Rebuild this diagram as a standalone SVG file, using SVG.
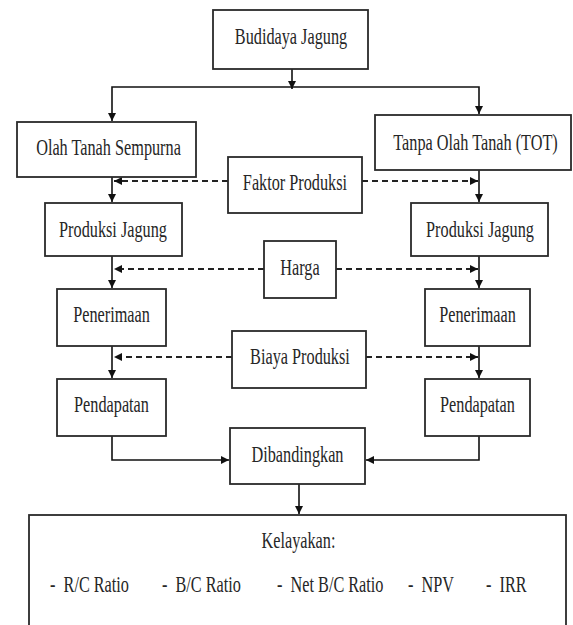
<svg xmlns="http://www.w3.org/2000/svg" width="573" height="625" viewBox="0 0 573 625">
<style>
.box{fill:#fff;stroke:#2a2a2a;stroke-width:1.8}
.c{fill:none;stroke:#111;stroke-width:1.6}
.d{fill:none;stroke:#222;stroke-width:2;stroke-dasharray:6 4}
</style>
<defs>
<marker id="ah" viewBox="0 0 10 10" refX="10" refY="5" markerUnits="userSpaceOnUse" markerWidth="9" markerHeight="8" orient="auto">
<path d="M0,0 L10,5 L0,10 z" fill="#111"/>
</marker>
</defs>
<rect width="573" height="625" fill="#fff"/>
<g id="connectors">
<path class="c" d="M292,60 V89" marker-end="url(#ah)"/>
<path class="c" d="M292,87 H112 V121" marker-end="url(#ah)"/>
<path class="c" d="M292,87 H479 V114" marker-end="url(#ah)"/>
<path class="c" d="M112,172 V202" marker-end="url(#ah)"/>
<path class="c" d="M112,252 V288" marker-end="url(#ah)"/>
<path class="c" d="M112,342 V378" marker-end="url(#ah)"/>
<path class="c" d="M112,429 V460 H229" marker-end="url(#ah)"/>
<path class="c" d="M479,163 V202" marker-end="url(#ah)"/>
<path class="c" d="M479,252 V288" marker-end="url(#ah)"/>
<path class="c" d="M479,342 V378" marker-end="url(#ah)"/>
<path class="c" d="M479,429 V460 H366" marker-end="url(#ah)"/>
<path class="c" d="M299,480 V514" marker-end="url(#ah)"/>
<path class="d" d="M228,181 H114" marker-end="url(#ah)"/>
<path class="d" d="M362,181 H478" marker-end="url(#ah)"/>
<path class="d" d="M264,269 H114" marker-end="url(#ah)"/>
<path class="d" d="M336,269 H478" marker-end="url(#ah)"/>
<path class="d" d="M232,357 H114" marker-end="url(#ah)"/>
<path class="d" d="M366,357 H478" marker-end="url(#ah)"/>
</g>
<g id="budidaya"><rect class="box" x="213" y="10" width="155" height="59"/><text font-family="Liberation Serif" font-size="24" fill="#262626" text-anchor="middle" transform="scale(0.677,1)" x="429.8" y="44">Budidaya Jagung</text></g>
<g id="olah"><rect class="box" x="17" y="122" width="179" height="55"/><text font-family="Liberation Serif" font-size="24" fill="#262626" text-anchor="middle" transform="scale(0.677,1)" x="160.3" y="155">Olah Tanah Sempurna</text></g>
<g id="tot"><rect class="box" x="375" y="115" width="196" height="55"/><text font-family="Liberation Serif" font-size="24" fill="#262626" text-anchor="middle" transform="scale(0.677,1)" x="702.4" y="150">Tanpa Olah Tanah (TOT)</text></g>
<g id="faktor"><rect class="box" x="228" y="157" width="134" height="56"/><text font-family="Liberation Serif" font-size="24" fill="#262626" text-anchor="middle" transform="scale(0.677,1)" x="435.7" y="190">Faktor Produksi</text></g>
<g id="produksi-l"><rect class="box" x="45" y="203" width="137" height="53"/><text font-family="Liberation Serif" font-size="24" fill="#262626" text-anchor="middle" transform="scale(0.677,1)" x="166.9" y="237">Produksi Jagung</text></g>
<g id="produksi-r"><rect class="box" x="411" y="203" width="137" height="53"/><text font-family="Liberation Serif" font-size="24" fill="#262626" text-anchor="middle" transform="scale(0.677,1)" x="709" y="237">Produksi Jagung</text></g>
<g id="harga"><rect class="box" x="264" y="241" width="72" height="57"/><text font-family="Liberation Serif" font-size="24" fill="#262626" text-anchor="middle" transform="scale(0.677,1)" x="443.1" y="275">Harga</text></g>
<g id="penerimaan-l"><rect class="box" x="57" y="289" width="109" height="57"/><text font-family="Liberation Serif" font-size="24" fill="#262626" text-anchor="middle" transform="scale(0.677,1)" x="164.7" y="322">Penerimaan</text></g>
<g id="penerimaan-r"><rect class="box" x="425" y="289" width="105" height="57"/><text font-family="Liberation Serif" font-size="24" fill="#262626" text-anchor="middle" transform="scale(0.677,1)" x="705.3" y="322">Penerimaan</text></g>
<g id="biaya"><rect class="box" x="232" y="331" width="134" height="57"/><text font-family="Liberation Serif" font-size="24" fill="#262626" text-anchor="middle" transform="scale(0.677,1)" x="443.1" y="364">Biaya Produksi</text></g>
<g id="pendapatan-l"><rect class="box" x="57" y="379" width="109" height="57"/><text font-family="Liberation Serif" font-size="24" fill="#262626" text-anchor="middle" transform="scale(0.677,1)" x="164.7" y="412">Pendapatan</text></g>
<g id="pendapatan-r"><rect class="box" x="425" y="379" width="105" height="57"/><text font-family="Liberation Serif" font-size="24" fill="#262626" text-anchor="middle" transform="scale(0.677,1)" x="705.3" y="412">Pendapatan</text></g>
<g id="dibandingkan"><rect class="box" x="230" y="428" width="135" height="56"/><text font-family="Liberation Serif" font-size="24" fill="#262626" text-anchor="middle" transform="scale(0.677,1)" x="439.4" y="462">Dibandingkan</text></g>
<g id="kelayakan"><rect class="box" x="29" y="515" width="537" height="130"/>
<text font-family="Liberation Serif" font-size="24" fill="#262626" text-anchor="middle" transform="scale(0.677,1)" x="440.9" y="548">Kelayakan:</text>
<text font-family="Liberation Serif" font-size="24" fill="#262626" xml:space="preserve" transform="scale(0.677,1)" x="73.9" y="592">-  R/C Ratio</text>
<text font-family="Liberation Serif" font-size="24" fill="#262626" xml:space="preserve" transform="scale(0.677,1)" x="239.3" y="592">-  B/C Ratio</text>
<text font-family="Liberation Serif" font-size="24" fill="#262626" xml:space="preserve" transform="scale(0.677,1)" x="409.2" y="592">-  Net B/C Ratio</text>
<text font-family="Liberation Serif" font-size="24" fill="#262626" xml:space="preserve" transform="scale(0.677,1)" x="602.7" y="592">-  NPV</text>
<text font-family="Liberation Serif" font-size="24" fill="#262626" xml:space="preserve" transform="scale(0.677,1)" x="717.9" y="592">-  IRR</text>
</g>
</svg>
